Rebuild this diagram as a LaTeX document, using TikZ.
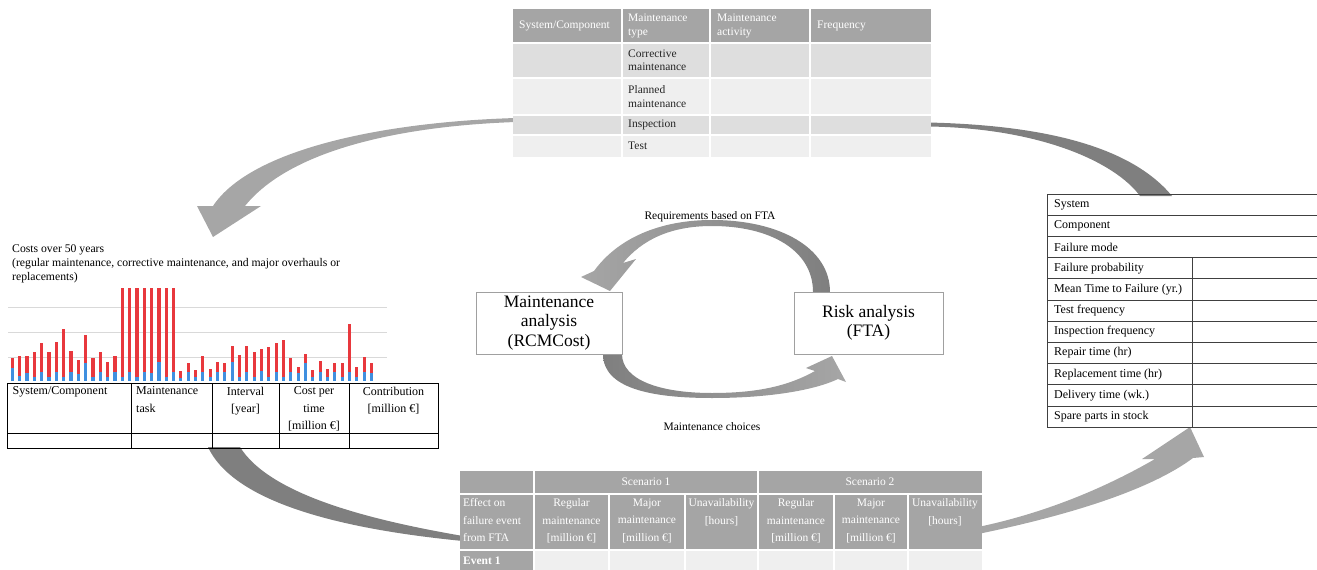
\documentclass[tikz,border=0pt]{standalone}
\usepackage{fontspec}
\setmainfont{Liberation Serif}
\usepackage{tikz}
\usetikzlibrary{positioning}
\definecolor{hdrgray}{HTML}{A5A5A5}
\definecolor{rowdark}{HTML}{DEDEDE}
\definecolor{rowlight}{HTML}{EFEFEF}
\definecolor{arrowdark}{HTML}{7F7F7F}
\definecolor{arrowlight}{HTML}{A6A6A6}
\definecolor{barred}{HTML}{E8383D}
\definecolor{barblue}{HTML}{3F8FDF}
\definecolor{gridgray}{HTML}{D9D9D9}
\definecolor{boxgray}{HTML}{A0A0A0}

\begin{document}
\begin{tikzpicture}[x=1pt,y=-1pt,
    cell/.style={inner sep=0pt, align=left, font=\fontsize{11.5}{13.3}\selectfont, text=black!85},
    hcell/.style={cell, text=white},
    tcell/.style={inner sep=0pt, font=\fontsize{12}{17.5}\selectfont},
    bcell/.style={inner sep=0pt, align=center, font=\fontsize{11.5}{17.5}\selectfont, text=white},
    anabox/.style={draw=boxgray, fill=white, inner sep=0pt, align=center, font=\fontsize{17.5}{19.5}\selectfont},
    loopnote/.style={inner sep=0pt, font=\fontsize{11.5}{13}\selectfont}]

  \useasboundingbox (0,0) rectangle (1317,570);

  % outer loop of arrows
  \fill[arrowlight] (516,118) .. controls (380,122) and (250,150) .. (213,206) -- (197,206) -- (213,237) -- (261,206) -- (245,206) .. controls (290,150) and (400,126) .. (516,122) -- cycle;
  \fill[arrowdark] (928,122.5) .. controls (1040,125) and (1130,145) .. (1172,196) -- (1140,196) .. controls (1115,162) and (1040,128) .. (928,126.5) -- cycle;
  \fill[arrowdark] (208,447) .. controls (235,505) and (350,530) .. (463,541) -- (463,536) .. controls (370,520) and (270,495) .. (240,447) -- cycle;
  \fill[arrowlight] (978,534) .. controls (1070,515) and (1150,490) .. (1193,458) -- (1204,457) -- (1190,427) -- (1142,459) -- (1155,459) .. controls (1110,485) and (1050,512) .. (978,527) -- cycle;

  % inner loop
  \shade[left color=arrowlight, right color=arrowdark] (830,292) .. controls (830,248) and (780,220) .. (712,220) .. controls (660,220) and (618,238) .. (594,271) -- (581,277) -- (610,291) -- (636,259) -- (623,263) .. controls (642,240) and (670,226) .. (712,226) .. controls (770,226) and (813,250) .. (813,292) -- cycle;
  \shade[left color=arrowdark, right color=arrowlight] (603,354) .. controls (603,388) and (650,398) .. (712,398) .. controls (770,398) and (815,390) .. (838,379) -- (846,382) -- (832,356) -- (806,368) -- (815,371) .. controls (790,385) and (760,393) .. (712,393) .. controls (660,393) and (622,380) .. (622,354) -- cycle;

  \node[anabox, minimum width=146pt, minimum height=62pt] (maint) at (549,323) {Maintenance\\analysis\\(RCMCost)};
  \node[anabox, minimum width=149pt, minimum height=62pt] (risk) at (868.5,323) {Risk analysis\\(FTA)};
  \node[loopnote] (req) at (710,217) {Requirements based on FTA};
  \node[loopnote] (choice) at (712,427) {Maintenance choices};

  % top table
  \fill[hdrgray] (513,9) rectangle (931,43);
  \fill[rowdark] (513,43) rectangle (931,78);
  \fill[rowlight] (513,78) rectangle (931,115);
  \fill[rowdark] (513,115) rectangle (931,135);
  \fill[rowlight] (513,135) rectangle (931,157);
  \foreach \y in {43,78,115,135}
    \draw[white, line width=1.5pt] (513,\y) -- (931,\y);
  \foreach \x in {622,710,810}
    \draw[white, line width=1.5pt] (\x,9) -- (\x,157);
  \node[hcell, anchor=west] (syscomp) at (519,26) {System/Component};
  \node[hcell, anchor=west] (mtype) at (628,26) {Maintenance\\type};
  \node[hcell, anchor=west] (mact) at (717,26) {Maintenance\\activity};
  \node[hcell, anchor=west] (freq) at (817,26) {Frequency};
  \node[cell, anchor=west] (corr) at (628,60.5) {Corrective\\maintenance};
  \node[cell, anchor=west] (plan) at (628,96.5) {Planned\\maintenance};
  \node[cell, anchor=west] (insp) at (628,125) {Inspection};
  \node[cell, anchor=west] (test) at (628,146) {Test};

  % cost chart
  \node[anchor=north west, inner sep=0pt, align=left, font=\fontsize{11.7}{14.2}\selectfont] (costs) at (12,244.5)
    {Costs over 50 years\\(regular maintenance, corrective maintenance, and major overhauls or\\replacements)};
  \foreach \y in {307,332,357}
    \draw[gridgray, line width=0.8pt] (8,\y) -- (387,\y);
  \foreach \i/\r/\b in {0/370/398, 1/362/423, 2/362/415, 3/352/427, 4/323/412, 5/352/427, 6/320/412, 7/282/427,
      8/349/412, 9/375/416, 10/300/384, 11/368/427, 12/352/411, 13/380/425, 14/363/412, 15/158/427,
      16/158/412, 17/158/427, 18/158/412, 19/158/415, 20/158/382, 21/158/427, 22/158/412, 23/407/428,
      24/385/412, 25/404/427, 26/362/412, 27/403/427, 28/382/412, 29/385/412, 30/334/382, 31/361/427,
      32/332/412, 33/350/427, 34/341/408, 35/336/427, 36/325/412, 37/314/427, 38/370/412, 39/397/413,
      40/358/385, 41/405/427, 42/377/412, 43/403/427, 44/383/412, 45/384/427, 46/268/412, 47/395/427,
      48/365/410, 49/385/413} {
    \fill[barblue] ({10.8+7.33*\i},380.7) rectangle ({13.9+7.33*\i},{235+\b/3});
    \fill[barred] ({10.8+7.33*\i},{235+\b/3}) rectangle ({13.9+7.33*\i},{235+\r/3});
  }

  % left table
  \draw[line width=0.8pt] (7,383) rectangle (438,448);
  \draw[line width=0.8pt] (7,433) -- (438,433);
  \foreach \x in {131,212,279,349}
    \draw[line width=0.8pt] (\x,383) -- (\x,448);
  \node[tcell, anchor=north west] (lsys) at (12.5,386.5) {System/Component};
  \node[tcell, anchor=north west, align=left] (ltask) at (136,386.5) {Maintenance\\task};
  \node[tcell, anchor=north, align=center] (lint) at (245.5,386.5) {Interval\\{[year]}};
  \node[tcell, anchor=north, align=center] (lcost) at (314,386.5) {Cost per\\time\\{[million €]}};
  \node[tcell, anchor=north, align=center] (lcont) at (393.5,386.5) {Contribution\\{[million €]}};

  % right table
  \foreach \k in {0,...,11}
    \draw[black!75, line width=0.9pt] (1047,{194+21.2*\k}) -- (1320,{194+21.2*\k});
  \draw[black!75, line width=0.9pt] (1047,194) -- (1047,427.2);
  \draw[black!75, line width=0.9pt] (1192,257.6) -- (1192,427.2);
  \foreach \k/\t in {0/System, 1/Component, 2/Failure mode, 3/Failure probability,
      4/Mean Time to Failure (yr.), 5/Test frequency, 6/Inspection frequency, 7/Repair time (hr),
      8/Replacement time (hr), 9/Delivery time (wk.), 10/Spare parts in stock}
    \node[tcell, anchor=west] (fta\k) at (1054,{204.6+21.2*\k}) {\t};

  % bottom table
  \fill[hdrgray] (460,471) rectangle (982,549);
  \fill[hdrgray] (460,551) rectangle (534,572);
  \fill[rowlight] (534,551) rectangle (982,572);
  \draw[white, line width=2pt] (460,494) -- (982,494);
  \draw[white, line width=2pt] (460,550) -- (982,550);
  \foreach \x in {534,758}
    \draw[white, line width=2pt] (\x,471) -- (\x,572);
  \foreach \x in {609,685,834,908}
    \draw[white, line width=2pt] (\x,494) -- (\x,572);
  \node[bcell] (scen1) at (646,482) {Scenario 1};
  \node[bcell] (scen2) at (870,482) {Scenario 2};
  \node[bcell, anchor=north west, align=left] (effect) at (463,498.5) {Effect on\\failure event\\from FTA};
  \foreach \n/\x in {1/571.5, 2/796}
    \node[bcell, anchor=north] (reg\n) at (\x,498.5) {Regular\\maintenance\\{[million €]}};
  \foreach \n/\x in {1/647, 2/871}
    \node[bcell, anchor=north] (maj\n) at (\x,498.5) {Major\\maintenance\\{[million €]}};
  \foreach \n/\x in {1/721.5, 2/945}
    \node[bcell, anchor=north] (unav\n) at (\x,498.5) {Unavailability\\{[hours]}};
  \node[bcell, anchor=west, font=\bfseries\fontsize{11.5}{13}\selectfont] (ev1) at (463,561) {Event 1};
\end{tikzpicture}
\end{document}
